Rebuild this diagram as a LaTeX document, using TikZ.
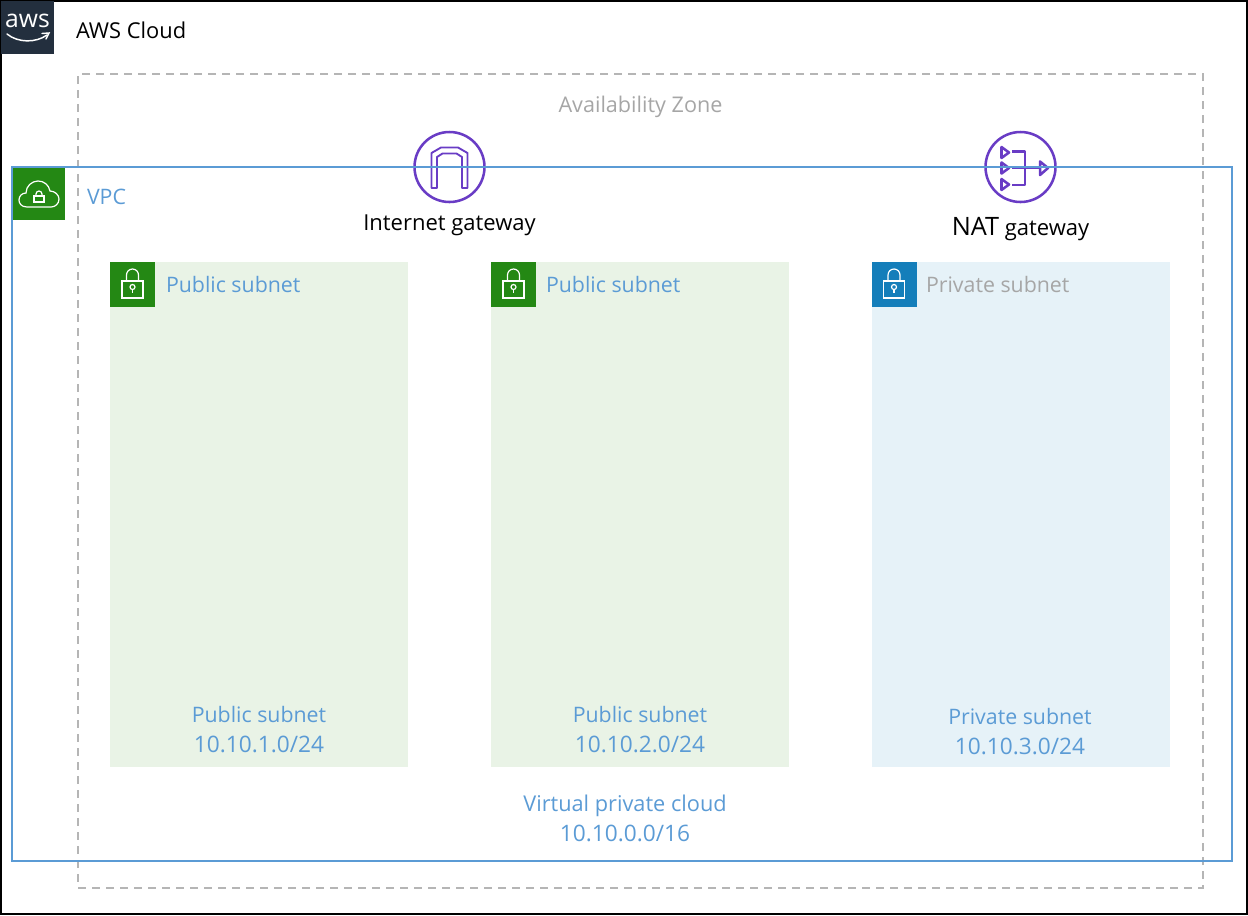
\documentclass[tikz,border=0pt]{standalone}
\usepackage{fontspec}
\setmainfont{Open Sans}
\usetikzlibrary{positioning}
\definecolor{awsdark}{HTML}{232F3E}
\definecolor{awsgreen}{HTML}{248814}
\definecolor{awsblue}{HTML}{147EBA}
\definecolor{awspurple}{HTML}{693CC5}
\definecolor{linkblue}{HTML}{5B9BD5}
\definecolor{zonegray}{HTML}{B5B5B5}
\definecolor{textgray}{HTML}{A6A6A6}
\definecolor{pubfill}{HTML}{E9F3E6}
\definecolor{privfill}{HTML}{E6F2F8}
\newcommand{\cidrsize}{\fontsize{17}{22.5}\selectfont}
\tikzset{x=0.75pt,y=-0.75pt,
         every node/.style={inner sep=0pt,outer sep=0pt,align=center,font=\fontsize{16}{22.5}\selectfont},
         subnetbox/.style={minimum width=223.5pt,minimum height=378.75pt}, % 298 x 505 px
         lockbox/.style={minimum width=33.75pt,minimum height=33.75pt},
         iconline/.style={draw=awspurple,line width=1.9pt,line join=round},
         lockline/.style={draw=white,line width=0.9pt},
         pics/subnetlock/.style={code={
           \draw[lockline] (-10.5,-3) rectangle (10.5,14);
           \draw[lockline] (-6,-3) -- (-6,-9) arc[start angle=180,end angle=360,radius=6] -- (6,-3);
           \draw[lockline] (0,3) circle[radius=2.5];
           \draw[lockline] (0,5.5) -- (0,9);
         }}}

\begin{document}
\begin{tikzpicture}
\useasboundingbox (0,0) rectangle (1248,915);

\node[draw=black,line width=1.5pt,minimum width=934.5pt,minimum height=684.75pt] (cloud) at (624,457.5) {};
\node[fill=awsdark,minimum width=39.75pt,minimum height=39.75pt] (awslogo) at (27.5,27.5) {};
\node[text=white,font=\fontsize{18.5}{18.5}\selectfont] (awstext) at (27.5,21) {aws};
\draw[white,line width=1.1pt,line cap=round] (7,34) .. controls (18,43) and (36,43) .. (47,35);
\draw[white,line width=1.1pt,line cap=round] (42,33.5) -- (49,33) -- (46,39);
\node[anchor=base west,font=\fontsize{16.4}{22.5}\selectfont] (cloudtext) at (76,38.5) {AWS Cloud};

% zone and vpc frames
\node[draw=zonegray,line width=1.6pt,dash pattern=on 6pt off 4.5pt,minimum width=843.75pt,minimum height=610.5pt] (zone) at (640.5,481) {};
\node[text=textgray,font=\fontsize{16.2}{22.5}\selectfont] (zonetext) at (640.5,107) {Availability Zone};

\begin{scope}[every node/.append style={subnetbox}]
    \node[fill=pubfill] (puba) at (259,514.5) {};
    \node[fill=pubfill] (pubb) at (640,514.5) {};
    \node[fill=privfill] (priv) at (1021,514.5) {};
\end{scope}

\node[draw=linkblue,line width=1.7pt,minimum width=915pt,minimum height=520.5pt] (vpc) at (622,514) {};
\node[fill=awsgreen,minimum width=39pt,minimum height=39pt] (vpcbox) at (39,194) {};
\node[anchor=base west,text=linkblue] (vpctext) at (87,204.5) {VPC};

% cloud with small lock
\draw[lockline] (27,207) .. controls (21,207) and (19,203) .. (19,200) .. controls (19,196) and (22,193) .. (26,193)
    .. controls (26,186) and (32,181) .. (38,181) .. controls (44,181) and (49,185) .. (50,191)
    .. controls (55,191) and (59,195) .. (59,199) .. controls (59,204) and (55,207) .. (51,207) -- cycle;
\draw[lockline] (34,196) rectangle (44,202);
\draw[lockline] (36,196) -- (36,194) arc[start angle=180,end angle=360,radius=3] -- (42,196);

\node[fill=awsgreen,lockbox] (lockpuba) at (132.5,284) {};
\node[fill=awsgreen,lockbox] (lockpubb) at (513.5,284) {};
\node[fill=awsblue,lockbox] (lockpriv) at (894,284) {};
\pic at (lockpuba.center) {subnetlock};
\pic at (lockpubb.center) {subnetlock};
\pic at (lockpriv.center) {subnetlock};

\begin{scope}[every node/.append style={text=linkblue}]
    \node[anchor=base west] (headpuba) at (166,292.5) {Public subnet};
    \node[anchor=base west] (headpubb) at (546,292.5) {Public subnet};
    \node (cidrpuba) at (259,730) {Public subnet\\{\cidrsize 10.10.1.0/24}};
    \node (cidrpubb) at (640,730) {Public subnet\\{\cidrsize 10.10.2.0/24}};
    \node (cidrpriv) at (1020,732) {Private subnet\\{\cidrsize 10.10.3.0/24}};
    \node (cidrvpc) at (625,818.5) {{\fontsize{16.3}{22.5}\selectfont Virtual private cloud}\\{\cidrsize 10.10.0.0/16}};
\end{scope}
\node[anchor=base west,text=textgray] (headpriv) at (926,292.5) {Private subnet};

% gateway icons
\node[circle,iconline,minimum size=52.5pt] (igw) at (449.5,167) {};
\draw[iconline,line width=1.4pt] (431.5,188) -- (431.5,153) -- (441,147.5) -- (458,147.5) -- (467.5,153) -- (467.5,188)
    -- (462,188) -- (462,157) -- (456.5,153.5) -- (442.5,153.5) -- (437,157) -- (437,188) -- cycle;
\node[below=17.5pt of igw.south,anchor=center,font=\fontsize{16.5}{22.5}\selectfont] (igwtext) {Internet gateway};

\node[circle,iconline,minimum size=52.5pt] (nat) at (1020.5,167) {};
\draw[iconline] (1001.5,147) -- (1009,152.5) -- (1001.5,158) -- cycle;
\draw[iconline] (1001.5,162.5) -- (1009,168) -- (1001.5,173.5) -- cycle;
\draw[iconline] (1001.5,179) -- (1009,184.5) -- (1001.5,190) -- cycle;
\draw[iconline] (1012,151.5) -- (1025,151.5) -- (1025,185) -- (1012,185);
\draw[iconline] (1012,167.5) -- (1039,167.5);
\draw[iconline] (1040,161.5) -- (1048,168) -- (1040,175) -- cycle;
\node[below=20pt of nat.south,anchor=center,font=\fontsize{16.5}{22.5}\selectfont] (nattext) {{\fontsize{19}{22}\selectfont NAT} gateway};

% vpc top edge runs over the icons
\draw[linkblue,line width=1.7pt] (vpc.north west) -- (vpc.north east);
\end{tikzpicture}
\end{document}
